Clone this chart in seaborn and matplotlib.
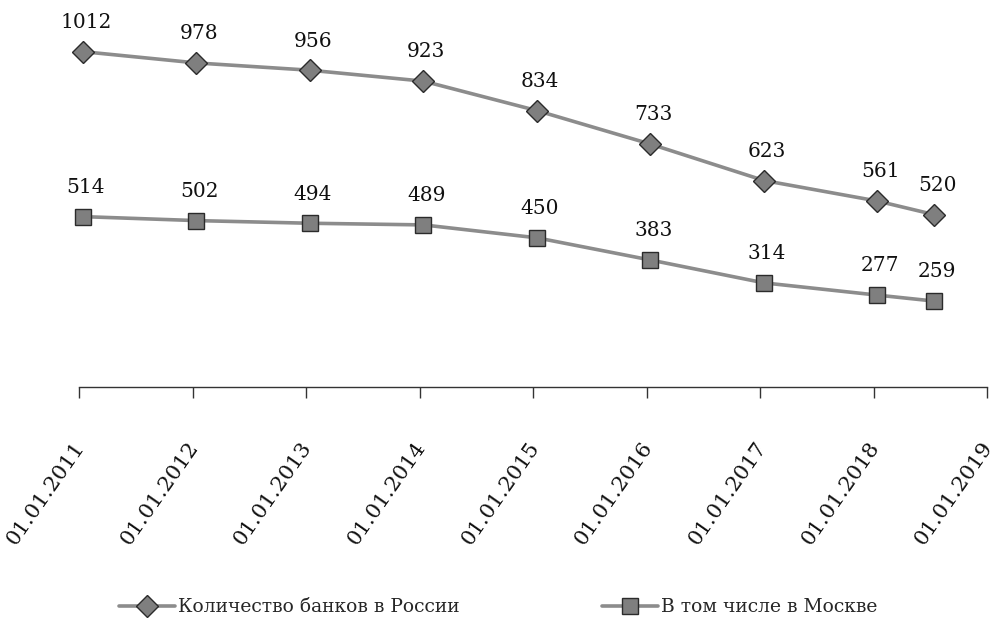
import numpy as np
import pandas as pd
import matplotlib
matplotlib.use("Agg")
import matplotlib.pyplot as plt
import matplotlib.transforms as mtransforms
import seaborn as sns

# data
years = [2011, 2012, 2013, 2014, 2015, 2016, 2017, 2018, 2018.5]
russia = [1012, 978, 956, 923, 834, 733, 623, 561, 520]
moscow = [514, 502, 494, 489, 450, 383, 314, 277, 259]
tick_years = [2011, 2012, 2013, 2014, 2015, 2016, 2017, 2018, 2019]
tick_labels = ["01.01." + str(y) for y in tick_years]
name_russia = "Количество банков в России"
name_moscow = "В том числе в Москве"

sns.set_style("white")
plt.rcParams['font.family'] = ['DejaVu Serif']

line_col = "#8c8c8c"
face_col = "#7f7f7f"
edge_col = "#2b2b2b"

fig = plt.figure(figsize=(9.92, 6.24), dpi=100)
ax = fig.add_axes([0, 0.38, 1, 0.62])

df_r = pd.DataFrame({"year": years, "value": russia})
df_m = pd.DataFrame({"year": years, "value": moscow})

sns.lineplot(data=df_r, x="year", y="value", ax=ax, color=line_col, lw=2.6,
             marker="D", markersize=11.5, markerfacecolor=face_col,
             markeredgecolor=edge_col, markeredgewidth=1.0, label=name_russia)
sns.lineplot(data=df_m, x="year", y="value", ax=ax, color=line_col, lw=2.6,
             marker="s", markersize=12, markerfacecolor=face_col,
             markeredgecolor=edge_col, markeredgewidth=1.0, label=name_moscow)

for x, v in zip(years, russia):
    ax.annotate(str(v), (x, v), xytext=(2, 21), textcoords="offset points",
                ha="center", va="center", fontsize=14.5, color="#111111")
for x, v in zip(years, moscow):
    ax.annotate(str(v), (x, v), xytext=(2, 21), textcoords="offset points",
                ha="center", va="center", fontsize=14.5, color="#111111")

ticks = np.array(tick_years) - 0.035
ax.set_xlim(2011 - 83 / 113.5, 2011 + (992 - 83) / 113.5)
ax.set_ylim(0, 1168)
ax.set_yticks([])
ax.set_xticks(ticks)
ax.set_xticklabels(tick_labels, rotation=55, ha="right", va="center",
                   rotation_mode="anchor", fontsize=15.2, color="#111111")
ax.tick_params(axis="x", direction="out", length=8, width=1, color="#333333",
               pad=33, bottom=True)
shift = mtransforms.ScaledTranslation(2 / 100, 0, fig.dpi_scale_trans)
for lab in ax.get_xticklabels():
    lab.set_transform(lab.get_transform() + shift)
ax.set_xlabel("")
ax.set_ylabel("")
for s in ["top", "left", "right"]:
    ax.spines[s].set_visible(False)
ax.spines["bottom"].set_color("#333333")
ax.spines["bottom"].set_linewidth(1)
ax.spines["bottom"].set_bounds(ticks[0], ticks[-1])

ax.legend_.remove()
handles, labels = ax.get_legend_handles_labels()
fig.legend(handles, labels, loc="center", bbox_to_anchor=(0.502, 0.027),
           ncol=2, frameon=False, fontsize=13.5, handlelength=3.0,
           handletextpad=0.15, columnspacing=7.6)

fig.savefig("out.png", dpi=100)
